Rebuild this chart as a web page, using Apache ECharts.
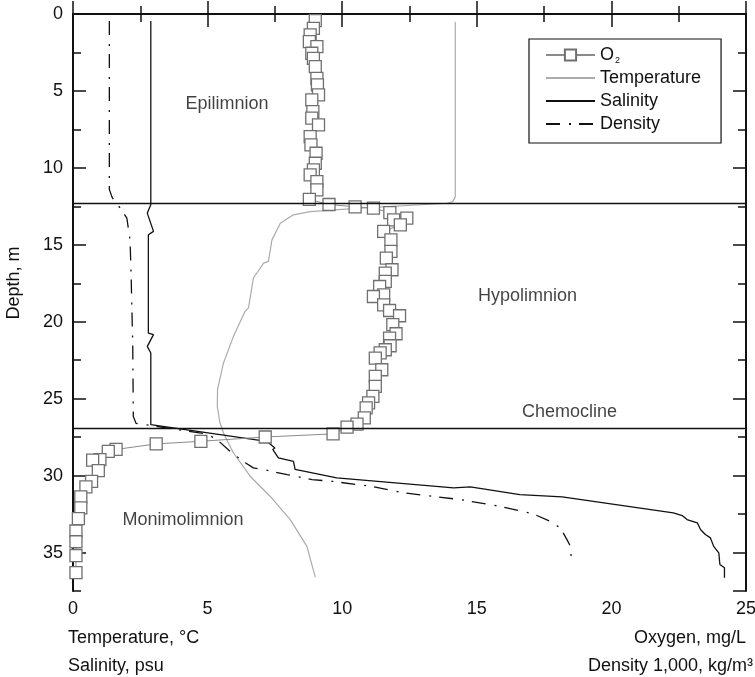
<!DOCTYPE html>
<html>
<head>
<meta charset="utf-8">
<title>Lake profile</title>
<script src="https://cdn.jsdelivr.net/npm/echarts@6/dist/echarts.min.js"></script>
<style>
  html, body { margin: 0; padding: 0; background: #fff; }
  #chart { width: 755px; height: 677px; }
</style>
</head>
<body>
<div id="chart"></div>
<script>
// Depth profiles (m) of the stratified lake
const o2Depth = [0.43, 0.93, 1.36, 1.8, 2.12, 2.55, 2.88, 3.42, 4.18, 4.61, 5.26, 5.58, 6.34, 6.77, 7.2, 7.97, 8.5, 9.05, 9.7, 10.13, 10.45, 10.89, 11.43, 12.05, 12.38, 12.53, 12.62, 12.91, 13.27, 13.38, 13.7, 14.13, 14.68, 15.43, 15.87, 16.62, 16.84, 17.38, 17.71, 18.25, 18.36, 18.9, 19.27, 19.61, 20.19, 20.78, 21.06, 21.56, 21.82, 22.03, 22.36, 23.12, 23.55, 24.2, 24.85, 25.28, 25.6, 26.25, 26.65, 26.85, 27.29, 27.49, 27.77, 27.94, 28.3, 28.42, 28.96, 29.0, 29.68, 30.37, 30.73, 31.38, 32.1, 32.8, 33.6, 34.3, 35.2, 36.3];
const o2Value = [9.0, 8.93, 8.81, 8.78, 9.06, 8.87, 8.93, 9.0, 9.06, 9.08, 9.12, 8.87, 8.91, 8.87, 9.12, 8.81, 8.84, 9.03, 9.0, 8.93, 8.81, 9.06, 9.06, 8.78, 9.51, 10.48, 11.16, 11.77, 12.4, 11.91, 12.16, 11.54, 11.81, 11.81, 11.64, 11.85, 11.6, 11.6, 11.39, 11.54, 11.16, 11.54, 11.76, 12.13, 11.88, 12.0, 11.76, 11.78, 11.6, 11.41, 11.23, 11.47, 11.23, 11.23, 11.14, 10.98, 10.89, 10.82, 10.55, 10.18, 9.66, 7.14, 4.75, 3.09, 1.6, 1.31, 1.0, 0.73, 0.94, 0.69, 0.48, 0.29, 0.29, 0.2, 0.11, 0.11, 0.11, 0.11];

const tempDepth = [0.5, 11.9, 12.2, 12.3, 12.62, 12.84, 13.05, 13.6, 14.68, 16.08, 16.19, 17.16, 19.1, 19.33, 20.95, 22.68, 24.4, 25.5, 26.5, 27.23, 28.53, 30.04, 31.34, 32.86, 34.6, 36.6];
const tempValue = [14.2, 14.2, 14.1, 13.9, 10.67, 8.81, 8.19, 7.7, 7.39, 7.26, 7.08, 6.7, 6.52, 6.39, 5.96, 5.59, 5.37, 5.36, 5.45, 5.59, 5.96, 6.58, 7.32, 8.07, 8.69, 9.0];

const salDepth = [0.45, 12.4, 12.94, 14.13, 14.35, 20.74, 20.84, 21.6, 22.03, 26.69, 27.77, 28.2, 28.3, 28.85, 29.07, 29.6, 30.15, 30.8, 30.73, 31.23, 31.38, 31.34, 32.42, 32.6, 32.86, 33.07, 33.5, 33.83, 34.05, 34.6, 35.02, 35.78, 35.99, 36.64];
const salValue = [2.89, 2.89, 2.76, 2.99, 2.8, 2.8, 2.99, 2.76, 2.89, 2.89, 7.2, 7.5, 7.42, 7.63, 8.19, 8.25, 9.8, 14.14, 14.76, 16.6, 18.17, 18.23, 22.3, 22.63, 22.81, 23.19, 23.31, 23.49, 23.68, 23.8, 23.99, 24.03, 24.2, 24.2];

const densDepth = [0.45, 11.4, 11.9, 12.2, 12.6, 13.27, 14.7, 17.06, 21.6, 26.15, 26.6, 27.3, 27.66, 28.6, 29.16, 29.5, 29.6, 29.94, 30.26, 30.37, 30.69, 31.12, 31.56, 32.0, 32.5, 32.97, 33.4, 34.16, 34.6, 35.45];
const densValue = [1.35, 1.35, 1.45, 1.56, 1.75, 2.0, 2.12, 2.16, 2.22, 2.24, 2.34, 4.98, 5.35, 5.95, 6.4, 6.7, 7.06, 7.96, 8.88, 9.62, 11.04, 12.28, 14.39, 15.87, 17.11, 17.73, 18.1, 18.35, 18.48, 18.51];

// Layer boundaries (m) and layer names
const boundaryDepths = [12.3, 26.9];
const zoneNames = ['Epilimnion', 'Hypolimnion', 'Chemocline', 'Monimolimnion'];
const zoneX = [5.72, 16.88, 18.44, 4.09];
const zoneDepth = [5.84, 18.3, 25.9, 32.9];

// Axis ticks
const xMin = 0, xMax = 25, xStep = 5;
const depthMin = 0, depthMax = 37.5, depthStep = 5;

const pairs = (xs, ds) => xs.map((v, i) => [v, ds[i]]);

const FONT = 'Liberation Sans, Arial, Helvetica, sans-serif';
const INK = '#111';

const chart = echarts.init(document.getElementById('chart'), null, { renderer: 'canvas' });

function xAxisDef(pos, showLabel) {
  return {
    type: 'value', position: pos, min: xMin, max: xMax, interval: xStep,
    axisLine: { show: true, lineStyle: { color: INK, width: 2 } },
    axisTick: { show: true, inside: true, length: 13, lineStyle: { color: INK, width: 1.5 } },
    minorTick: { show: true, splitNumber: 2, length: 8, lineStyle: { color: INK, width: 1.5 } },
    splitLine: { show: false },
    axisLabel: { show: showLabel, fontSize: 18, fontFamily: FONT, color: INK, margin: 9 }
  };
}
function yAxisDef(pos, step, tickLen, showLine, showLabel) {
  return {
    type: 'value', position: pos, inverse: true, min: depthMin, max: depthMax, interval: step,
    axisLine: { show: showLine, lineStyle: { color: INK, width: 2 } },
    axisTick: { show: true, inside: true, length: tickLen, lineStyle: { color: INK, width: 1.5 } },
    splitLine: { show: false },
    axisLabel: { show: showLabel, fontSize: 18, fontFamily: FONT, color: INK, margin: 10, showMaxLabel: false }
  };
}

// Plain-line legend entries hide the default marker dot
const noMarker = { opacity: 0 };

const option = {
  animation: false,
  backgroundColor: '#fff',
  textStyle: { fontFamily: FONT },
  grid: { left: 73, right: 9, top: 14, bottom: 86, outerBoundsMode: 'none' },
  xAxis: [xAxisDef('bottom', true), xAxisDef('top', false)],
  yAxis: [
    yAxisDef('left', depthStep, 13, true, true),
    yAxisDef('left', depthStep / 2, 8, false, false),
    yAxisDef('right', depthStep, 13, true, false),
    yAxisDef('right', depthStep / 2, 8, false, false)
  ],
  legend: {
    orient: 'vertical', left: 529, top: 39,
    data: [
      { name: 'O2' },
      { name: 'Temperature', itemStyle: noMarker },
      { name: 'Salinity', itemStyle: noMarker },
      { name: 'Density', itemStyle: noMarker }
    ],
    itemWidth: 49, itemHeight: 14, itemGap: 3,
    padding: [6, 20, 9, 16],
    borderColor: INK, borderWidth: 1.2, backgroundColor: '#fff',
    selectedMode: false,
    formatter: name => name === 'O2' ? 'O{sub|2}' : name,
    textStyle: {
      fontSize: 18, fontFamily: FONT, color: INK, lineHeight: 20,
      rich: { sub: { fontSize: 9, fontFamily: FONT, color: INK, lineHeight: 8, verticalAlign: 'bottom', padding: [0, 0, 0, 1] } }
    }
  },
  series: [
    {
      name: 'Temperature', type: 'line', data: pairs(tempValue, tempDepth),
      showSymbol: false, symbol: 'none',
      lineStyle: { color: '#ababab', width: 1.2 }, itemStyle: { color: '#ababab' }, z: 2
    },
    {
      name: 'Density', type: 'line', data: pairs(densValue, densDepth),
      showSymbol: false, symbol: 'none',
      lineStyle: { color: INK, width: 1.3, type: [14, 9, 2, 8] }, itemStyle: { color: INK }, z: 3
    },
    {
      name: 'Salinity', type: 'line', data: pairs(salValue, salDepth),
      showSymbol: false, symbol: 'none',
      lineStyle: { color: INK, width: 1.3 }, itemStyle: { color: INK }, z: 3,
      markLine: {
        silent: true, symbol: ['none', 'none'],
        label: { show: false },
        lineStyle: { color: INK, width: 1.3, type: 'solid' },
        data: boundaryDepths.map(d => ({ yAxis: d }))
      }
    },
    {
      name: 'O2', type: 'line', data: pairs(o2Value, o2Depth),
      symbol: 'rect', symbolSize: 12, showSymbol: true,
      lineStyle: { color: '#8a8a8a', width: 1 },
      itemStyle: { color: '#fff', borderColor: '#707070', borderWidth: 1.3 },
      z: 4
    },
    {
      name: 'zones', type: 'scatter', silent: true,
      data: zoneNames.map((n, i) => ({ name: n, value: [zoneX[i], zoneDepth[i]] })),
      symbolSize: 1, itemStyle: { color: 'rgba(0,0,0,0)' },
      label: { show: true, position: 'inside', formatter: '{b}', fontSize: 18, fontFamily: FONT, color: INK },
      z: 5
    }
  ],
  graphic: [
    { type: 'text', x: 68, y: 638, style: { text: 'Temperature, °C', font: '18px ' + FONT, fill: INK, align: 'left', verticalAlign: 'middle' } },
    { type: 'text', x: 68, y: 666, style: { text: 'Salinity, psu', font: '18px ' + FONT, fill: INK, align: 'left', verticalAlign: 'middle' } },
    { type: 'text', x: 746, y: 638, style: { text: 'Oxygen, mg/L', font: '18px ' + FONT, fill: INK, align: 'right', verticalAlign: 'middle' } },
    { type: 'text', x: 753, y: 666, style: { text: 'Density 1,000, kg/m³', font: '18px ' + FONT, fill: INK, align: 'right', verticalAlign: 'middle' } },
    { type: 'text', x: 14, y: 283, rotation: Math.PI / 2, style: { text: 'Depth, m', font: '18px ' + FONT, fill: INK, align: 'center', verticalAlign: 'middle' } }
  ]
};

chart.setOption(option);
</script>
</body>
</html>
